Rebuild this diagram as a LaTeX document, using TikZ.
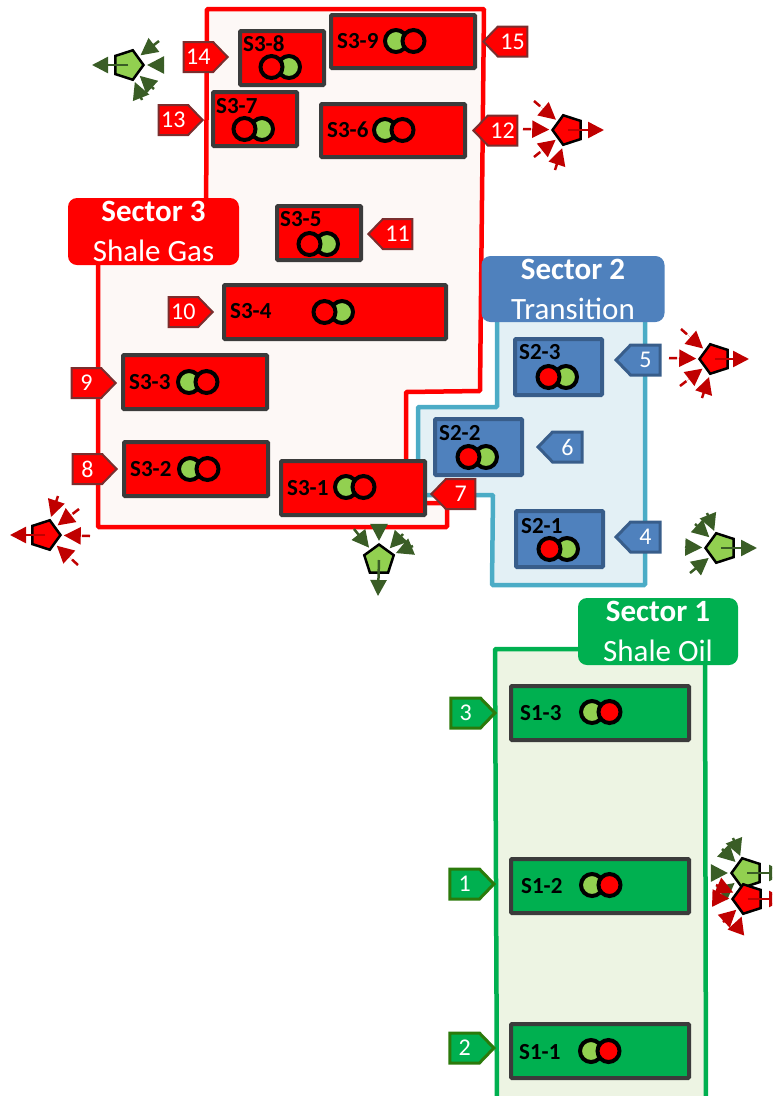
\documentclass[tikz,border=0pt]{standalone}
\usepackage{fontspec}
\setmainfont{Carlito}
\usetikzlibrary{arrows.meta,positioning,shapes.geometric,shapes.symbols}
\definecolor{gasred}{HTML}{FF0000}
\definecolor{gasedge}{HTML}{7A2E2E}
\definecolor{gaspale}{HTML}{FDF8F6}
\definecolor{midblue}{HTML}{4F81BD}
\definecolor{midedge}{HTML}{385D8A}
\definecolor{midline}{HTML}{4BACC6}
\definecolor{midpale}{HTML}{E3F0F5}
\definecolor{oilgreen}{HTML}{00B050}
\definecolor{oilpale}{HTML}{EDF4E3}
\definecolor{oiledge}{HTML}{2B7A0B}
\definecolor{unitedge}{HTML}{3B3B3B}
\definecolor{lampgreen}{HTML}{92D050}
\definecolor{flowgreen}{HTML}{3A5D26}
\definecolor{flowred}{HTML}{C00000}
\tikzset{
  sector/outline/.style={line width=4.5pt, rounded corners=1pt},
  sector/title/.style={rounded corners=9pt, inner sep=0pt, text=white, align=center, font=\fontsize{31}{40}\selectfont},
  unit/box/.style={draw=unitedge, fill=gasred, line width=4pt, rounded corners=1pt, inner sep=0pt},
  unit/mid/.style={unit/box, draw=midedge, fill=midblue},
  unit/oil/.style={unit/box, fill=oilgreen},
  unit/text/.style={anchor=west, inner sep=0pt, font=\fontsize{23}{23}\selectfont\bfseries},
  lamp/.style={draw=black, circle, line width=4pt, minimum size=22pt, inner sep=0pt},
  lamp/red/.style={lamp, fill=gasred},
  lamp/green/.style={lamp, fill=lampgreen},
  tag/base/.style={signal, signal pointer angle=92, inner sep=0pt, minimum height=30pt, minimum width=44pt,
    text=white, font=\fontsize{24}{24}\selectfont},
  tag/gas/.style={tag/base, draw=gasedge, fill=gasred, line width=2pt},
  tag/mid/.style={tag/base, draw=midedge, fill=midblue, line width=3pt},
  tag/oil/.style={tag/base, draw=oiledge, fill=oilgreen, line width=3pt},
  well/.style={regular polygon, regular polygon sides=5, draw=black, line width=2.5pt, inner sep=0pt, minimum size=31pt},
  well/oil/.style={well, fill=lampgreen},
  well/gas/.style={well, fill=gasred},
  flowin/.style={line width=2.5pt, dash pattern=on 8pt off 60pt, shorten >=2pt, -{Triangle[length=17pt,width=17pt]}},
  flowout/.style={line width=2.5pt, -{Triangle[length=16pt,width=16pt]}}
}
\begin{document}
\begin{tikzpicture}[x=1pt,y=-1pt]
  \useasboundingbox (0,0) rectangle (772,1096);
  \clip (0,0) rectangle (772,1096);

  % sector outlines
  \draw[sector/outline, draw=gasred, fill=gaspale] (207,9) -- (484,9) -- (480,391) -- (406,392) -- (406,503) -- (447,503)
    -- (447,527) -- (98,527) -- (98,230) -- (206,230) -- cycle;
  \draw[sector/outline, draw=midline, fill=midpale] (497,300) -- (645,300) -- (645,585) -- (492,585) -- (493,495) -- (418,495)
    -- (418,407) -- (497,407) -- cycle;
  \draw[sector/outline, draw=oilgreen, fill=oilpale] (495,649) -- (705,649) -- (706,1110) -- (497,1110) -- cycle;

  \node[sector/title, fill=gasred, minimum width=171pt, minimum height=67pt] (titleS3) at (153.5,231.5) {\textbf{Sector 3}\\Shale Gas};
  \node[sector/title, fill=midblue, minimum width=183pt, minimum height=66pt] (titleS2) at (573,289) {\textbf{Sector 2}\\Transition};
  \node[sector/title, fill=oilgreen, minimum width=160pt, minimum height=67pt] (titleS1) at (658,631.5) {\textbf{Sector 1}\\Shale Oil};

  % sector 3 units
  \node[unit/box, minimum width=144pt, minimum height=53pt] (unitS39) at (403,41.5) {};
  \node[unit/box, minimum width=84pt, minimum height=54pt] (unitS38) at (282,58) {};
  \node[unit/box, minimum width=84pt, minimum height=54pt] (unitS37) at (255,119) {};
  \node[unit/box, minimum width=144pt, minimum height=53pt] (unitS36) at (393,130.5) {};
  \node[unit/box, minimum width=84pt, minimum height=54pt] (unitS35) at (319,233) {};
  \node[unit/box, minimum width=222pt, minimum height=54pt] (unitS34) at (335,312) {};
  \node[unit/box, minimum width=144pt, minimum height=54pt] (unitS33) at (195,382) {};
  \node[unit/box, minimum width=144pt, minimum height=54pt] (unitS32) at (196,469) {};
  \node[unit/box, minimum width=144pt, minimum height=54pt] (unitS31) at (353,488) {};

  \node[unit/text] (textS39) at (337,41) {S3-9};
  \node[unit/text] (textS38) at (243,44) {S3-8};
  \node[unit/text] (textS37) at (216,106) {S3-7};
  \node[unit/text] (textS36) at (327,130) {S3-6};
  \node[unit/text] (textS35) at (280,219) {S3-5};
  \node[unit/text] (textS34) at (230,311) {S3-4};
  \node[unit/text] (textS33) at (129,382) {S3-3};
  \node[unit/text] (textS32) at (130,469) {S3-2};
  \node[unit/text] (textS31) at (287,488) {S3-1};

  \node[lamp/green] (lampS39g) at (396,41) {};
  \node[lamp/red, right=-8.5pt of lampS39g] (lampS39r) {};
  \node[lamp/green] (lampS38g) at (289,67) {};
  \node[lamp/red, left=-8.5pt of lampS38g] (lampS38r) {};
  \node[lamp/green] (lampS37g) at (262,129) {};
  \node[lamp/red, left=-8.5pt of lampS37g] (lampS37r) {};
  \node[lamp/green] (lampS36g) at (385,130) {};
  \node[lamp/red, right=-8.5pt of lampS36g] (lampS36r) {};
  \node[lamp/green] (lampS35g) at (327,244) {};
  \node[lamp/red, left=-8.5pt of lampS35g] (lampS35r) {};
  \node[lamp/green] (lampS34g) at (342,312) {};
  \node[lamp/red, left=-8.5pt of lampS34g] (lampS34r) {};
  \node[lamp/green] (lampS33g) at (189,382) {};
  \node[lamp/red, right=-8.5pt of lampS33g] (lampS33r) {};
  \node[lamp/green] (lampS32g) at (190,469) {};
  \node[lamp/red, right=-8.5pt of lampS32g] (lampS32r) {};
  \node[lamp/green] (lampS31g) at (346,487) {};
  \node[lamp/red, right=-8.5pt of lampS31g] (lampS31r) {};

  % sector 2 units
  \node[unit/mid, minimum width=87pt, minimum height=56pt] (unitS23) at (558.5,367) {};
  \node[unit/mid, minimum width=87pt, minimum height=56pt] (unitS22) at (478.5,447) {};
  \node[unit/mid, minimum width=87pt, minimum height=56pt] (unitS21) at (559.5,539) {};

  \node[unit/text] (textS23) at (519,352) {S2-3};
  \node[unit/text] (textS22) at (439,433) {S2-2};
  \node[unit/text] (textS21) at (521,526) {S2-1};

  \node[lamp/green] (lampS23g) at (566,377) {};
  \node[lamp/red, left=-8.5pt of lampS23g] (lampS23r) {};
  \node[lamp/green] (lampS22g) at (486,457) {};
  \node[lamp/red, left=-8.5pt of lampS22g] (lampS22r) {};
  \node[lamp/green] (lampS21g) at (567,549) {};
  \node[lamp/red, left=-8.5pt of lampS21g] (lampS21r) {};

  % sector 1 units
  \node[unit/oil, minimum width=178pt, minimum height=54pt] (unitS13) at (600,713) {};
  \node[unit/oil, minimum width=178pt, minimum height=54pt] (unitS12) at (600,886) {};
  \node[unit/oil, minimum width=178pt, minimum height=54pt] (unitS11) at (600,1051) {};

  \node[unit/text] (textS13) at (520,713) {S1-3};
  \node[unit/text] (textS12) at (521,886) {S1-2};
  \node[unit/text] (textS11) at (519,1052) {S1-1};

  \node[lamp/green] (lampS13g) at (592,712) {};
  \node[lamp/red, right=-8.5pt of lampS13g] (lampS13r) {};
  \node[lamp/green] (lampS12g) at (592,885) {};
  \node[lamp/red, right=-8.5pt of lampS12g] (lampS12r) {};
  \node[lamp/green] (lampS11g) at (591,1051) {};
  \node[lamp/red, right=-8.5pt of lampS11g] (lampS11r) {};

  % numbered tags
  \node[tag/gas, signal to=east, left=9pt of unitS38, yshift=1pt] (tag14) {14};
  \node[tag/gas, signal to=east, left=7pt of unitS37, yshift=-1pt] (tag13) {13};
  \node[tag/gas, signal to=west, right=5pt of unitS39] (tag15) {15};
  \node[tag/gas, signal to=west, right=5pt of unitS36] (tag12) {12};
  \node[tag/gas, signal to=west, right=4pt of unitS35, yshift=-1pt] (tag11) {11};
  \node[tag/gas, signal to=east, left=8pt of unitS34] (tag10) {10};
  \node[tag/gas, signal to=east, left=4pt of unitS33, yshift=-1pt] (tag9) {9};
  \node[tag/gas, signal to=east, left=4pt of unitS32] (tag8) {8};
  \node[tag/gas, signal to=west, right=3pt of unitS31, yshift=-6pt] (tag7) {7};
  \node[tag/mid, signal to=west, right=10pt of unitS23, yshift=7pt] (tag5) {5};
  \node[tag/mid, signal to=west, right=12pt of unitS22] (tag6) {6};
  \node[tag/mid, signal to=west, right=9pt of unitS21, yshift=2pt] (tag4) {4};
  \node[tag/oil, signal to=east, left=12pt of unitS13] (tag3) {3};
  \node[tag/oil, signal to=east, left=13pt of unitS12, yshift=2pt] (tag1) {1};
  \node[tag/oil, signal to=east, left=13pt of unitS11, yshift=3pt] (tag2) {2};

  % wells and their flows
  \node[well/oil, rotate=-90] (wellA) at (128,65) {};
  \foreach \px/\py in {159/41,164/65,154/89,142/100} {
    \coordinate (inA) at (\px,\py);
    \draw[flowin, draw=flowgreen, fill=flowgreen] (inA) -- (wellA);
  }
  \coordinate (outA) at (92,65);
  \draw[flowout, draw=flowgreen, fill=flowgreen] (wellA.center) -- (outA);

  \node[well/gas, rotate=90] (wellB) at (568,130) {};
  \foreach \px/\py in {534/101,523/129,534/157,555/170} {
    \coordinate (inB) at (\px,\py);
    \draw[flowin, draw=flowred, fill=flowred] (inB) -- (wellB);
  }
  \coordinate (outB) at (604,130);
  \draw[flowout, draw=flowred, fill=flowred] (wellB.center) -- (outB);

  \node[well/gas, rotate=-90] (wellC) at (45,535) {};
  \foreach \px/\py in {58/496,79/509,90/536,78/565} {
    \coordinate (inC) at (\px,\py);
    \draw[flowin, draw=flowred, fill=flowred] (inC) -- (wellC);
  }
  \coordinate (outC) at (10,535);
  \draw[flowout, draw=flowred, fill=flowred] (wellC.center) -- (outC);

  \node[well/oil] (wellD) at (379,560) {};
  \foreach \px/\py in {354/529,379/524,403/534,413/546} {
    \coordinate (inD) at (\px,\py);
    \draw[flowin, draw=flowgreen, fill=flowgreen] (inD) -- (wellD);
  }
  \coordinate (outD) at (378,596);
  \draw[flowout, draw=flowgreen, fill=flowgreen] (wellD.center) -- (outD);

  \node[well/gas, rotate=90] (wellE) at (715,359) {};
  \foreach \px/\py in {681/329,669/358,680/386,702/398} {
    \coordinate (inE) at (\px,\py);
    \draw[flowin, draw=flowred, fill=flowred] (inE) -- (wellE);
  }
  \coordinate (outE) at (749,359);
  \draw[flowout, draw=flowred, fill=flowred] (wellE.center) -- (outE);

  \node[well/oil, rotate=90] (wellF) at (721,548) {};
  \foreach \px/\py in {707/513,695/524,685/547,690/573} {
    \coordinate (inF) at (\px,\py);
    \draw[flowin, draw=flowgreen, fill=flowgreen] (inF) -- (wellF);
  }
  \coordinate (outF) at (757,548);
  \draw[flowout, draw=flowgreen, fill=flowgreen] (wellF.center) -- (outF);

  \node[well/oil, rotate=90] (wellG) at (747,873) {};
  \foreach \px/\py in {733/838,722/849,712/873,722/893} {
    \coordinate (inG) at (\px,\py);
    \draw[flowin, draw=flowgreen, fill=flowgreen] (inG) -- (wellG);
  }
  \coordinate (outG) at (785,873);
  \draw[flowout, draw=flowgreen, fill=flowgreen] (wellG.center) -- (outG);

  \node[well/gas, rotate=90] (wellH) at (748,899) {};
  \foreach \px/\py in {713/898,716/885,723/922,736/932} {
    \coordinate (inH) at (\px,\py);
    \draw[flowin, draw=flowred, fill=flowred] (inH) -- (wellH);
  }
  \coordinate (outH) at (785,899);
  \draw[flowout, draw=flowred, fill=flowred] (wellH.center) -- (outH);
\end{tikzpicture}
\end{document}
